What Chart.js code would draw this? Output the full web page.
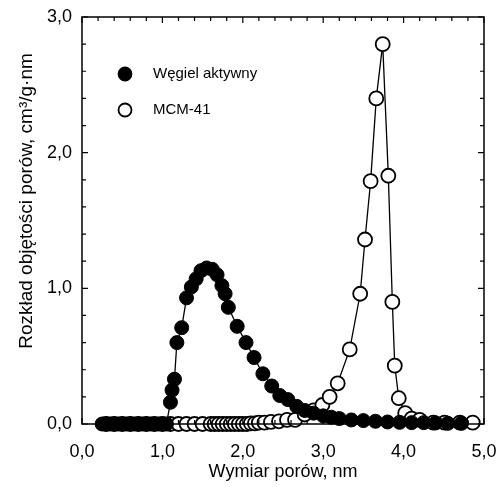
<!DOCTYPE html>
<html>
<head>
<meta charset="utf-8">
<script src="https://cdn.jsdelivr.net/npm/chart.js@4"></script>
<style>
  body { margin: 0; background: #fff; }
  #wrap { width: 498px; height: 487px; }
</style>
</head>
<body>
<div id="wrap"><canvas id="wykres"></canvas></div>
<script>
// Węgiel aktywny (pełne kółka)
const wegielX = [0.25, 0.3, 0.35, 0.4, 0.45, 0.5, 0.55, 0.6, 0.65, 0.7, 0.75, 0.8, 0.85, 0.9, 0.95, 1.0, 1.05,
  1.10, 1.12, 1.15, 1.18, 1.24, 1.30, 1.36, 1.42, 1.48, 1.55, 1.62, 1.68, 1.74, 1.78, 1.82, 1.93, 2.04, 2.14,
  2.25, 2.36, 2.46, 2.56, 2.67, 2.77, 2.88, 3.0, 3.1, 3.2, 3.35, 3.5, 3.65, 3.8, 3.95, 4.1, 4.25, 4.4, 4.55, 4.72];
const wegielY = [0, 0, 0, 0, 0, 0, 0, 0, 0, 0, 0, 0, 0, 0, 0, 0, 0,
  0.16, 0.25, 0.33, 0.60, 0.71, 0.93, 1.01, 1.07, 1.13, 1.15, 1.14, 1.10, 1.02, 0.96, 0.86, 0.72, 0.60, 0.49,
  0.37, 0.28, 0.21, 0.18, 0.13, 0.10, 0.08, 0.06, 0.05, 0.04, 0.03, 0.025, 0.02, 0.015, 0.012, 0.01, 0.01, 0.008, 0.005, 0.005];

// MCM-41 (puste kółka)
const mcmX = [0.3, 0.4, 0.5, 0.6, 0.7, 0.8, 0.9, 1.0, 1.1, 1.2, 1.3, 1.4, 1.5, 1.6, 1.65, 1.7, 1.75, 1.8, 1.85,
  1.9, 1.95, 2.0, 2.05, 2.1, 2.15, 2.2, 2.27, 2.35, 2.45, 2.55, 2.65, 2.77, 2.88, 2.99, 3.08, 3.18, 3.33,
  3.46, 3.52, 3.59, 3.66, 3.74, 3.81, 3.86, 3.89, 3.94, 4.02, 4.10, 4.20, 4.37, 4.51, 4.70, 4.86];
const mcmY = [0, 0, 0, 0, 0, 0, 0, 0, 0, 0, 0, 0, 0, 0, 0, 0, 0, 0, 0,
  0, 0, 0, 0, 0.005, 0.005, 0.01, 0.01, 0.015, 0.02, 0.03, 0.03, 0.07, 0.10, 0.14, 0.20, 0.30, 0.55,
  0.96, 1.36, 1.79, 2.40, 2.80, 1.83, 0.90, 0.43, 0.19, 0.08, 0.04, 0.03, 0.01, 0.01, 0.01, 0.01];

const xTicks = [0, 1, 2, 3, 4, 5];
const yTicks = [0, 1, 2, 3];

const font = "Liberation Sans, Arial, sans-serif";
const tytulY = "Rozkład objętości porów, cm³/g·nm";

function przecinek(v) {
    return v.toFixed(1).replace(".", ",");
}

// ramka wykresu, znaczniki skierowane do środka, legenda, opis osi Y
const ramka = {
    id: "ramka",
    afterDraw(chart) {
        const c = chart.ctx;
        const a = chart.chartArea;
        const sx = chart.scales.x;
        const sy = chart.scales.y;
        c.save();
        c.strokeStyle = "#000";
        c.lineWidth = 1.5;
        c.strokeRect(a.left, a.top, a.right - a.left, a.bottom - a.top);
        c.lineWidth = 1.2;
        c.beginPath();
        for (let i = 0; i <= 25; i++) {
            const px = sx.getPixelForValue(i * 0.2);
            const len = i % 5 === 0 ? 6 : 4;
            c.moveTo(px, a.bottom); c.lineTo(px, a.bottom - len);
            c.moveTo(px, a.top); c.lineTo(px, a.top + len);
        }
        for (let i = 0; i <= 15; i++) {
            const py = sy.getPixelForValue(i * 0.2);
            const len = i % 5 === 0 ? 6 : 4;
            c.moveTo(a.left, py); c.lineTo(a.left + len, py);
            c.moveTo(a.right, py); c.lineTo(a.right - len, py);
        }
        c.stroke();

        // legenda
        const lx = a.left + 43;
        const wiersze = [
            { y: a.top + 57, fill: "#000", text: "Węgiel aktywny" },
            { y: a.top + 93, fill: "#fff", text: "MCM-41" }
        ];
        c.font = "15px " + font;
        c.textBaseline = "middle";
        wiersze.forEach(w => {
            c.beginPath();
            c.arc(lx, w.y, 6.5, 0, Math.PI * 2);
            c.fillStyle = w.fill;
            c.fill();
            c.lineWidth = 1.8;
            c.strokeStyle = "#000";
            c.stroke();
            c.fillStyle = "#000";
            c.fillText(w.text, lx + 28, w.y);
        });

        // opis osi Y
        c.translate(27, 201);
        c.rotate(-Math.PI / 2);
        c.font = "19px " + font;
        c.textAlign = "center";
        c.textBaseline = "middle";
        c.fillStyle = "#000";
        c.fillText(tytulY, 0, 0);
        c.restore();
    }
};

const ctx = document.getElementById("wykres").getContext("2d");
new Chart(ctx, {
    type: "line",
    data: {
        datasets: [
            {
                label: "Węgiel aktywny",
                data: wegielX.map((x, i) => ({ x: x, y: wegielY[i] })),
                borderColor: "#000",
                borderWidth: 1.3,
                backgroundColor: "#000",
                pointBackgroundColor: "#000",
                pointBorderColor: "#000",
                pointRadius: 7,
                pointBorderWidth: 1,
                tension: 0,
                clip: false
            },
            {
                label: "MCM-41",
                data: mcmX.map((x, i) => ({ x: x, y: mcmY[i] })),
                borderColor: "#000",
                borderWidth: 1.3,
                backgroundColor: "#fff",
                pointBackgroundColor: "#fff",
                pointBorderColor: "#000",
                pointRadius: 7,
                pointBorderWidth: 1.8,
                tension: 0,
                clip: false
            }
        ]
    },
    options: {
        responsive: true,
        maintainAspectRatio: false,
        animation: false,
        events: [],
        layout: { padding: { left: 0, right: 14, top: 17, bottom: 0 } },
        plugins: {
            legend: { display: false },
            tooltip: { enabled: false }
        },
        scales: {
            x: {
                type: "linear",
                min: 0,
                max: 5,
                grid: { display: false, drawTicks: false },
                border: { display: false },
                afterBuildTicks: s => { s.ticks = xTicks.map(v => ({ value: v })); },
                afterFit: s => {
                    s.height = 63;
                    s.paddingLeft = 0;
                    s.paddingRight = 0;
                },
                ticks: {
                    padding: 17,
                    maxRotation: 0,
                    color: "#000",
                    font: { family: font, size: 18 },
                    callback: v => przecinek(v)
                },
                title: {
                    display: true,
                    text: "Wymiar porów, nm",
                    color: "#000",
                    font: { family: font, size: 18 },
                    padding: { top: 0, bottom: 4 }
                }
            },
            y: {
                type: "linear",
                min: 0,
                max: 3,
                grid: { display: false, drawTicks: false },
                border: { display: false },
                afterBuildTicks: s => { s.ticks = yTicks.map(v => ({ value: v })); },
                afterFit: s => {
                    s.width = 82;
                    s.paddingTop = 0;
                    s.paddingBottom = 0;
                },
                ticks: {
                    padding: 10,
                    color: "#000",
                    font: { family: font, size: 18 },
                    callback: v => przecinek(v)
                }
            }
        }
    },
    plugins: [ramka]
});
</script>
</body>
</html>
